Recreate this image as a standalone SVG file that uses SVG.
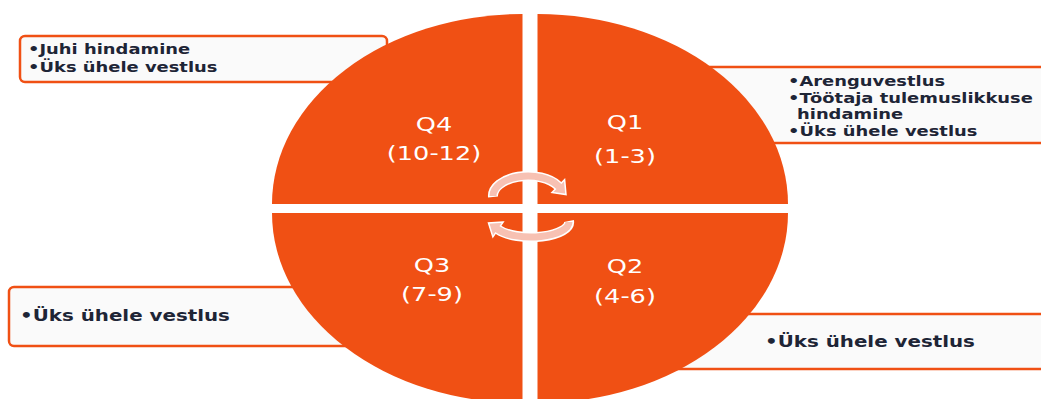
<svg xmlns="http://www.w3.org/2000/svg" width="1041" height="399" viewBox="0 0 1041 399">
  <style>
    .q { fill: #F05014; }
    .lbl { font-family: "DejaVu Sans", Verdana, sans-serif; font-size: 20px; fill: #ffffff; text-anchor: middle; }
    .box { fill: #fafafa; stroke: #F05014; stroke-width: 2.5; }
    .bt { font-family: "DejaVu Sans", Verdana, sans-serif; font-weight: bold; font-size: 14px; fill: #1e2536; }
    .bt2 { font-family: "DejaVu Sans", Verdana, sans-serif; font-weight: bold; font-size: 15.5px; fill: #1e2536; }
    .arrow-out { fill: none; stroke: #ffffff; stroke-width: 10; }
    .arrow-in { fill: none; stroke: #f7c1b3; stroke-width: 7; }
    .arrow-head { fill: #f7c1b3; stroke: #ffffff; stroke-width: 1.5; stroke-linejoin: miter; }
  </style>

  <!-- callout boxes (behind the circle) -->
  <g id="box-q4">
    <rect class="box" x="20" y="36" width="367" height="46" rx="5"/>
    <text class="bt" transform="translate(28,54) scale(1.28,1)">•Juhi hindamine</text>
    <text class="bt" transform="translate(28,72) scale(1.28,1)">•Üks ühele vestlus</text>
  </g>
  <g id="box-q1">
    <rect class="box" x="700" y="67" width="400" height="76"/>
    <text class="bt" transform="translate(788,86) scale(1.28,1)">•Arenguvestlus</text>
    <text class="bt" transform="translate(788,102.5) scale(1.28,1)">•Töötaja tulemuslikkuse</text>
    <text class="bt" transform="translate(797,118.5) scale(1.28,1)">hindamine</text>
    <text class="bt" transform="translate(788,135.5) scale(1.28,1)">•Üks ühele vestlus</text>
  </g>
  <g id="box-q3">
    <rect class="box" x="9" y="287" width="400" height="59" rx="5"/>
    <text class="bt2" transform="translate(20,321) scale(1.28,1)">•Üks ühele vestlus</text>
  </g>
  <g id="box-q2">
    <rect class="box" x="660" y="314" width="440" height="55"/>
    <text class="bt2" transform="translate(765,347) scale(1.28,1)">•Üks ühele vestlus</text>
  </g>

  <!-- quadrants -->
  <g id="q4">
    <path class="q" d="M522.5 204 L272 204 A250.5 190 0 0 1 522.5 14 Z"/>
    <text class="lbl" transform="translate(434,130.5) scale(1.28,1)">Q4</text>
    <text class="lbl" transform="translate(434,160) scale(1.28,1)">(10-12)</text>
  </g>
  <g id="q1">
    <path class="q" d="M537.5 204 L537.5 14 A250.5 190 0 0 1 788 204 Z"/>
    <text class="lbl" transform="translate(625,129) scale(1.28,1)">Q1</text>
    <text class="lbl" transform="translate(625,163) scale(1.28,1)">(1-3)</text>
  </g>
  <g id="q2">
    <path class="q" d="M537.5 213 L788 213 A250.5 190 0 0 1 537.5 403 Z"/>
    <text class="lbl" transform="translate(625,273.3) scale(1.28,1)">Q2</text>
    <text class="lbl" transform="translate(625,303) scale(1.28,1)">(4-6)</text>
  </g>
  <g id="q3">
    <path class="q" d="M522.5 213 L522.5 403 A250.5 190 0 0 1 272 213 Z"/>
    <text class="lbl" transform="translate(432,272.3) scale(1.28,1)">Q3</text>
    <text class="lbl" transform="translate(432,301.3) scale(1.28,1)">(7-9)</text>
  </g>

  <!-- cycle arrows -->
  <g id="connectors">
    <g id="arrow-top">
      <path class="arrow-out" d="M493 197 A35 20 0 0 1 558.3 186"/>
      <polygon class="arrow-head" points="564.6,179.6 566,194.5 552,192.4"/>
      <path class="arrow-in" d="M493 196 A35 20 0 0 1 558.3 186 l1.4 1.4"/>
    </g>
    <g id="arrow-bottom">
      <path class="arrow-out" d="M569 221 A38 15 0 0 1 498 229.5"/>
      <polygon class="arrow-head" points="503.1,222.1 488.5,223 492.9,236.9"/>
      <path class="arrow-in" d="M569 222 A38 15 0 0 1 498 229.5 l-1.6 -1.1"/>
    </g>
  </g>
</svg>
